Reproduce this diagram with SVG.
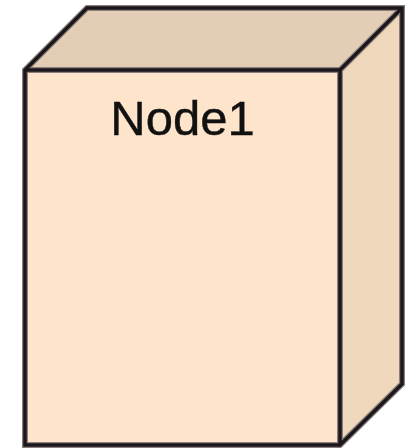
<svg xmlns="http://www.w3.org/2000/svg" width="418" height="448" viewBox="0 0 418 448">
<style>
.halo{fill:none;stroke:#8a7f7a;stroke-width:6;stroke-linejoin:miter}
.line{fill:none;stroke:#1c171d;stroke-width:3.5;stroke-linejoin:miter}
.lbl{font-family:"Liberation Sans",Arial,sans-serif;font-size:49px;fill:#111;text-anchor:middle;stroke:#111;stroke-width:0.4}
</style>
<g id="node1">
<polygon fill="#e3cdb4" points="25,70 87,8 402,8 340,70"/>
<polygon fill="#f0d8bd" points="340,70 402,8 402,384 340,445"/>
<rect fill="#fde4ca" x="25" y="70" width="315" height="375"/>
<path class="halo" d="M25,70 L87,8 L402,8 L402,384 L340,445 L25,445 Z M25,70 L340,70 L402,8 M340,70 L340,445"/>
<path class="line" d="M25,70 L87,8 L402,8 L402,384 L340,445 L25,445 Z M25,70 L340,70 L402,8 M340,70 L340,445"/>
<text class="lbl" x="182.5" y="135">Node1</text>
</g>
</svg>
